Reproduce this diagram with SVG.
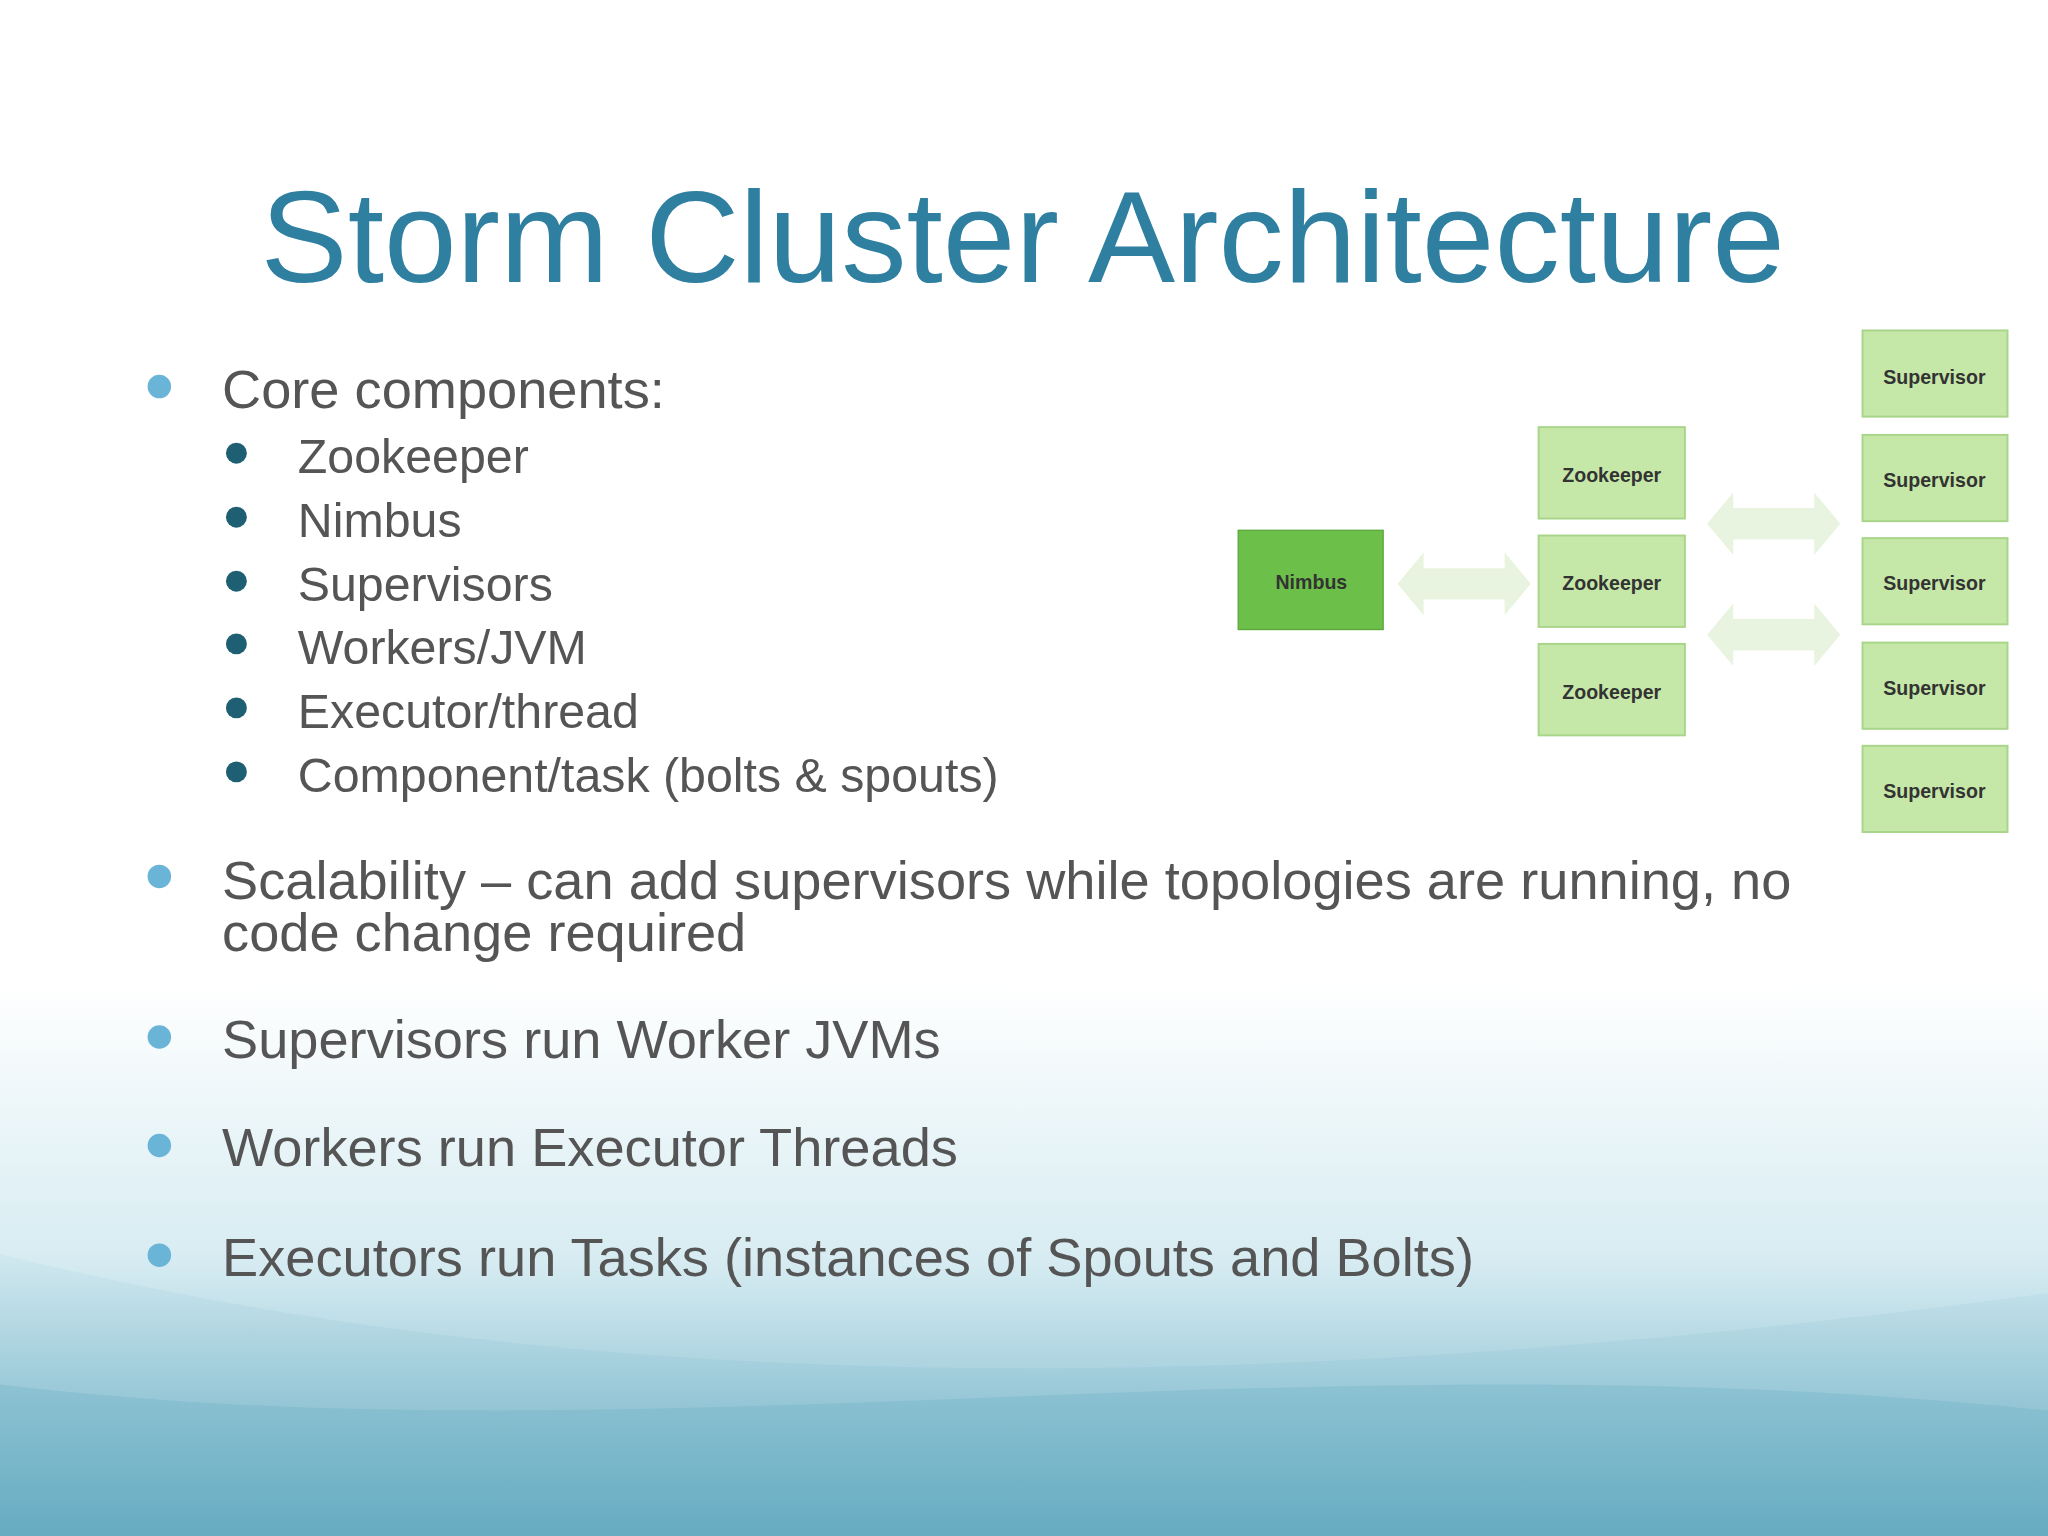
<svg xmlns="http://www.w3.org/2000/svg" width="2048" height="1536" viewBox="0 0 2048 1536">
<defs>
<linearGradient id="bg" x1="0" y1="0" x2="0" y2="1">
<stop offset="0" stop-color="#ffffff"/>
<stop offset="0.64" stop-color="#ffffff"/>
<stop offset="0.82" stop-color="#d7ecf2"/>
<stop offset="1" stop-color="#6aaec4"/>
</linearGradient>
<linearGradient id="wave" x1="0" y1="0" x2="0" y2="1">
<stop offset="0" stop-color="#9fcbd9" stop-opacity="0.4"/>
<stop offset="1" stop-color="#5ea5bd"/>
</linearGradient>
<polygon id="dArrow" points="-51,0 -31,-24 -31,-12 31,-12 31,-24 51,0 31,24 31,12 -31,12 -31,24" fill="#e6f3dc" opacity="0.9"/>
</defs>
<style>
.t{font-family:"Liberation Sans",Arial,sans-serif;fill:#555555}
.b1{fill:#6ab4d8}
.b2{fill:#1f5f73}
.zk rect,.sv rect{fill:#c5e8a8;stroke:#a9d58a;stroke-width:1.5}
.lbl{font-family:"Liberation Sans",Arial,sans-serif;font-weight:bold;font-size:15px;fill:#333;text-anchor:middle}
</style>
<g transform="scale(1.30612)">
<rect width="1568" height="1176" fill="url(#bg)"/>
<path d="M0,960 C400,1060 900,1080 1568,990 L1568,1176 L0,1176 Z" fill="url(#wave)" opacity="0.35"/>
<path d="M0,1060 C500,1120 1000,1020 1568,1080 L1568,1176 L0,1176 Z" fill="#6aaec4" opacity="0.3"/>
<text x="783" y="216" class="t" style="fill:#2e7fa0;font-size:100px" text-anchor="middle">Storm Cluster Architecture</text>
<g class="t" style="font-size:41.5px">
<circle class="b1" cx="122" cy="296" r="9"/><text x="170" y="312">Core components:</text>
<circle class="b1" cx="122" cy="671" r="9"/><text x="170" y="688">Scalability – can add supervisors while topologies are running, no</text>
<text x="170" y="728">code change required</text>
<circle class="b1" cx="122" cy="794" r="9"/><text x="170" y="810">Supervisors run Worker JVMs</text>
<circle class="b1" cx="122" cy="877" r="9"/><text x="170" y="893">Workers run Executor Threads</text>
<circle class="b1" cx="122" cy="961" r="9"/><text x="170" y="977">Executors run Tasks (instances of Spouts and Bolts)</text>
</g>
<g class="t" style="font-size:37px">
<circle class="b2" cx="181" cy="347" r="8"/><text x="228" y="362">Zookeeper</text>
<circle class="b2" cx="181" cy="396" r="8"/><text x="228" y="411">Nimbus</text>
<circle class="b2" cx="181" cy="445" r="8"/><text x="228" y="460">Supervisors</text>
<circle class="b2" cx="181" cy="493" r="8"/><text x="228" y="508">Workers/JVM</text>
<circle class="b2" cx="181" cy="542" r="8"/><text x="228" y="557">Executor/thread</text>
<circle class="b2" cx="181" cy="591" r="8"/><text x="228" y="606">Component/task (bolts &amp; spouts)</text>
</g>
<g id="connectors">
<use href="#dArrow" transform="translate(1121,447)"/>
<use href="#dArrow" transform="translate(1358,401)"/>
<use href="#dArrow" transform="translate(1358,486)"/>
</g>
<g id="nimbus"><rect x="948" y="406" width="111" height="76" fill="#6cc04a" stroke="#5aa83c"/><text x="1004" y="451" class="lbl">Nimbus</text></g>
<g id="zk1" class="zk"><rect x="1178" y="327" width="112" height="70"/><text x="1234" y="369" class="lbl">Zookeeper</text></g>
<g id="zk2" class="zk"><rect x="1178" y="410" width="112" height="70"/><text x="1234" y="452" class="lbl">Zookeeper</text></g>
<g id="zk3" class="zk"><rect x="1178" y="493" width="112" height="70"/><text x="1234" y="535" class="lbl">Zookeeper</text></g>
<g id="sv1" class="sv"><rect x="1426" y="253" width="111" height="66"/><text x="1481" y="294" class="lbl">Supervisor</text></g>
<g id="sv2" class="sv"><rect x="1426" y="333" width="111" height="66"/><text x="1481" y="373" class="lbl">Supervisor</text></g>
<g id="sv3" class="sv"><rect x="1426" y="412" width="111" height="66"/><text x="1481" y="452" class="lbl">Supervisor</text></g>
<g id="sv4" class="sv"><rect x="1426" y="492" width="111" height="66"/><text x="1481" y="532" class="lbl">Supervisor</text></g>
<g id="sv5" class="sv"><rect x="1426" y="571" width="111" height="66"/><text x="1481" y="611" class="lbl">Supervisor</text></g>
</g>
</svg>
